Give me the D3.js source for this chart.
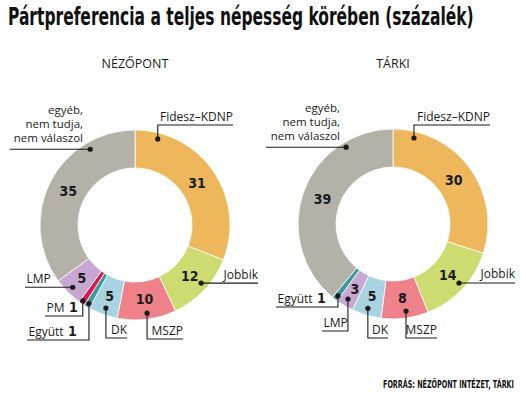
<!DOCTYPE html>
<html>
<head>
<meta charset="utf-8">
<script src="https://cdn.jsdelivr.net/npm/d3@7"></script>
<style>
  html, body { margin: 0; padding: 0; background: #fff; }
  svg { display: block; }
</style>
</head>
<body>
<svg id="chart" width="526" height="397"></svg>
<script>
// ---------- DATA ----------
const titleText = "Pártpreferencia a teljes népesség körében (százalék)";
const sourceText = "FORRÁS: NÉZŐPONT INTÉZET, TÁRKI";

const nezopontTitle = "NÉZŐPONT";
const nezopontCategories = ["Fidesz–KDNP", "Jobbik", "MSZP", "DK", "Együtt", "PM", "LMP", "egyéb"];
const nezopontValues = [31, 12, 10, 5, 1, 1, 5, 35];

const tarkiTitle = "TÁRKI";
const tarkiCategories = ["Fidesz–KDNP", "Jobbik", "MSZP", "DK", "LMP", "Együtt", "egyéb"];
const tarkiValues = [30, 14, 8, 5, 3, 1, 39];

const otherLabelLines = ["egyéb,", "nem tudja,", "nem válaszol"];

const partyColors = {
  "Fidesz–KDNP": "#eeb75b",
  "Jobbik": "#cddb70",
  "MSZP": "#ee8189",
  "DK": "#a9d3e0",
  "LMP": "#c8a7d3",
  "PM": "#e0154d",
  "Együtt": "#3b9b9b",
  "egyéb": "#b4b2a8"
};

// ---------- LAYOUT (positions / callout geometry) ----------
const donutLayouts = [
  { title: nezopontTitle, cats: nezopontCategories, vals: nezopontValues,
    cx: 135, cy: 225, R: 95, r: 57,
    callouts: {
      "Fidesz–KDNP": { a: 14.8, rr: 89, mode: "up", y: 125, x: 233 },
      "Jobbik": { a: 131.3, rr: 88, mode: "h", x: 258 },
      "MSZP": { a: 172.2, rr: 89, mode: "down", y: 339, x: 183 },
      "DK": { a: 199.3, rr: 88, mode: "down", y: 338, x: 127 },
      "Együtt": { a: 210.4, rr: 91, mode: "down", y: 340, x: 27 },
      "PM": { a: 214.6, rr: 92, mode: "down", y: 316, x: 45 },
      "LMP": { a: 225, rr: 88, mode: "h", x: 25 },
      "egyéb": { a: 329.4, rr: 88, mode: "h", x: 10, textX: 83 }
    } },
  { title: tarkiTitle, cats: tarkiCategories, vals: tarkiValues,
    cx: 393, cy: 224, R: 95, r: 57,
    callouts: {
      "Fidesz–KDNP": { a: 13.7, rr: 88.5, mode: "up", y: 125, x: 490 },
      "Jobbik": { a: 131.8, rr: 88.5, mode: "h", x: 515 },
      "MSZP": { a: 171.5, rr: 88, mode: "down", y: 338, x: 437 },
      "DK": { a: 196.6, rr: 88, mode: "down", y: 338, x: 388 },
      "LMP": { a: 211, rr: 87.5, mode: "down", y: 331, x: 322 },
      "Együtt": { a: 217.4, rr: 90.6, mode: "down", y: 307, x: 276 },
      "egyéb": { a: 328.6, rr: 90, mode: "h", x: 266, textX: 340 }
    } }
];

const ink = "#1b1b1b";
const labelFont = "'Open Sans', 'Noto Sans', sans-serif";
const condFont = "'Liberation Sans Narrow', 'DejaVu Sans Condensed', 'Liberation Sans', sans-serif";

const svg = d3.select("#chart");

// squeeze a text horizontally to a target width (keeps a true bounding box)
function fitWidth(sel, x, y, target) {
  const w = sel.node().getComputedTextLength();
  const s = w > 0 ? target / w : 1;
  sel.attr("x", 0).attr("y", 0)
     .attr("transform", `translate(${x},${y}) scale(${s},1)`);
}

// Title
const title = svg.append("text")
  .attr("font-family", condFont)
  .attr("font-weight", "bold")
  .attr("font-size", 24)
  .attr("fill", "#111")
  .text(titleText);
fitWidth(title, 8, 25, 466);

// Source
const src = svg.append("text")
  .attr("font-family", condFont)
  .attr("font-weight", "bold")
  .attr("font-size", 10)
  .attr("fill", "#111")
  .text(sourceText);
fitWidth(src, 383, 388, 131);

const rad = Math.PI / 180;

donutLayouts.forEach(L => {
  const data = L.cats.map((c, i) => ({ name: c, value: L.vals[i] }));
  const pie = d3.pie().sort(null).value(d => d.value).startAngle(0).endAngle(2 * Math.PI);
  const arcs = pie(data);
  const arc = d3.arc().innerRadius(L.r).outerRadius(L.R);
  const labelArc = d3.arc().innerRadius((L.r + L.R) / 2 - 1).outerRadius((L.r + L.R) / 2 - 1);

  // subtitle
  svg.append("text")
    .attr("x", L.cx).attr("y", 68)
    .attr("text-anchor", "middle")
    .attr("font-family", labelFont)
    .attr("font-size", 12.5)
    .attr("fill", ink)
    .text(L.title);

  const g = svg.append("g").attr("transform", `translate(${L.cx},${L.cy})`);

  g.selectAll("path.slice")
    .data(arcs)
    .join("path")
    .attr("class", "slice")
    .attr("d", arc)
    .attr("fill", d => partyColors[d.data.name])
    .attr("stroke", "#fff")
    .attr("stroke-width", 0.8);

  // values inside ring (tiny ones go in the callouts)
  g.selectAll("text.val")
    .data(arcs.filter(d => d.data.value > 1))
    .join("text")
    .attr("class", "val")
    .attr("transform", d => `translate(${labelArc.centroid(d)})`)
    .attr("text-anchor", "middle")
    .attr("dy", "0.36em")
    .attr("font-family", condFont)
    .attr("font-weight", "bold")
    .attr("font-size", 14)
    .attr("fill", ink)
    .text(d => d.data.value);

  // callouts
  arcs.forEach(d => {
    const c = L.callouts[d.data.name];
    if (!c) return;
    const px = L.cx + c.rr * Math.sin(c.a * rad);
    const py = L.cy - c.rr * Math.cos(c.a * rad);
    let pts, lineY;
    if (c.mode === "h") {
      lineY = py;
      pts = [[px, py], [c.x, py]];
    } else {
      lineY = c.y;
      pts = [[px, py], [px, c.y], [c.x, c.y]];
    }
    svg.append("path")
      .attr("d", d3.line()(pts))
      .attr("fill", "none")
      .attr("stroke", ink)
      .attr("stroke-width", 1.1);
    svg.append("circle")
      .attr("cx", px).attr("cy", py).attr("r", 2.6)
      .attr("fill", ink);

    const goesRight = c.x > px;
    if (d.data.name === "egyéb") {
      const n = otherLabelLines.length;
      otherLabelLines.forEach((ln, i) => {
        svg.append("text")
          .attr("x", c.textX)
          .attr("y", lineY - 7 - (n - 1 - i) * 14)
          .attr("text-anchor", "end")
          .attr("font-family", labelFont)
          .attr("font-size", 11.5)
          .attr("fill", ink)
          .text(ln);
      });
      return;
    }
    const t = svg.append("text")
      .attr("x", goesRight ? c.x : c.x + 1.5)
      .attr("y", lineY - 4.5)
      .attr("text-anchor", goesRight ? "end" : "start")
      .attr("font-family", labelFont)
      .attr("font-size", 12)
      .attr("fill", ink);
    t.append("tspan").text(d.data.name);
    if (d.data.value <= 1) {
      t.append("tspan")
        .attr("font-family", condFont)
        .attr("font-weight", "bold")
        .attr("font-size", 14)
        .text(" " + d.data.value);
    }
  });
});
</script>
</body>
</html>
